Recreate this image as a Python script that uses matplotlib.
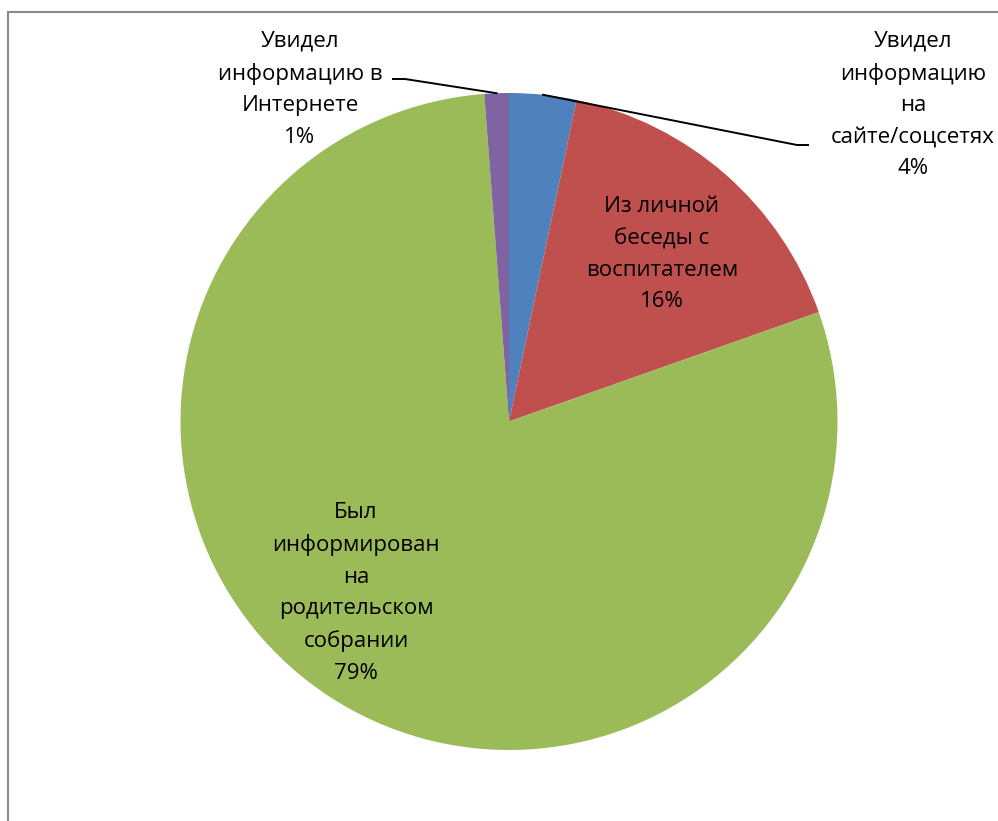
import numpy as np
import matplotlib.pyplot as plt
from matplotlib.patches import Rectangle

plt.rcParams['font.family'] = ['Open Sans', 'DejaVu Sans']

# shares, labels as printed on the chart
labels = ['Увидел\nинформацию\nна\nсайте/соцсетях',
          'Из личной\nбеседы с\nвоспитателем',
          'Был\nинформирован\nна\nродительском\nсобрании',
          'Увидел\nинформацию в\nИнтернете']
shares = [3.3, 16.3, 79.2, 1.2]
pct_labels = ['4%', '16%', '79%', '1%']
colors = ['#4F81BD', '#C0504D', '#9BBB59', '#8064A2']

W, H = 998, 821
fig = plt.figure(figsize=(W/100, H/100), dpi=100)
ax = fig.add_axes([0, 0, 1, 1])

cx, cy, r = 509, H - 421.5, 328.5
wedges, _ = ax.pie(shares, colors=colors, startangle=90, counterclock=False,
                   center=(cx, cy), radius=r, frame=True,
                   wedgeprops=dict(linewidth=0))
ax.set_xlim(0, W)
ax.set_ylim(0, H)
ax.set_aspect('equal')
ax.axis('off')

# chart frame (runs off the right and bottom edge)
fig.patches.append(Rectangle((7.5/W, -0.1), 1.2, (H - 12)/H + 0.1,
                             transform=fig.transFigure, fill=False,
                             edgecolor='#8a8a8a', linewidth=1.5))

def edge_point(w):
    a = np.deg2rad((w.theta1 + w.theta2) / 2)
    return cx + r*np.cos(a), cy + r*np.sin(a)

txt = dict(fontsize=16, ha='center', va='center', linespacing=1.66, color='black')

# outside labels with leader lines
ax.text(913, H - 105, labels[0] + '\n' + pct_labels[0], **txt)
x0, y0 = edge_point(wedges[0])
ax.plot([x0, 797, 808], [y0, H - 145, H - 145], color='black', lw=1.4)

ax.text(300, H - 89, labels[3] + '\n' + pct_labels[3], **txt)
x3, y3 = edge_point(wedges[3])
ax.plot([x3, 405, 393], [y3, H - 79, H - 79], color='black', lw=1.4)

# inside labels
ax.text(662, H - 254, labels[1] + '\n' + pct_labels[1], **txt)
ax.text(356, H - 593, labels[2] + '\n' + pct_labels[2], **txt)

fig.savefig('out.png', dpi=100)
